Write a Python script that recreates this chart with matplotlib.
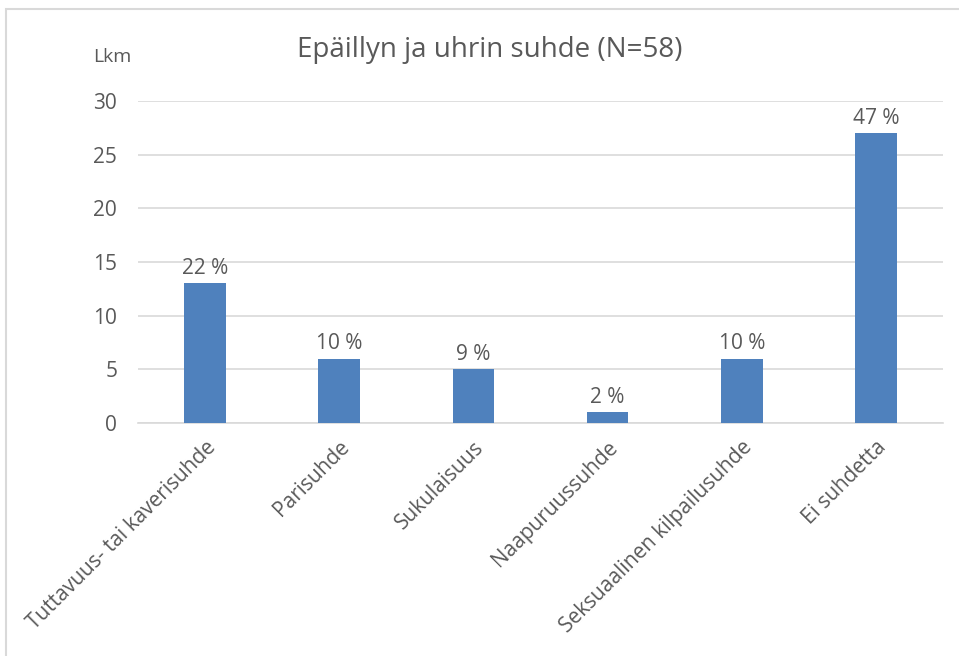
import matplotlib
matplotlib.use("Agg")
import matplotlib.pyplot as plt
from matplotlib.patches import Rectangle

categories = ["Tuttavuus- tai kaverisuhde", "Parisuhde", "Sukulaisuus",
              "Naapuruussuhde", "Seksuaalinen kilpailusuhde", "Ei suhdetta"]
counts = [13, 6, 5, 1, 6, 27]
pct_labels = ["22 %", "10 %", "9 %", "2 %", "10 %", "47 %"]
yticks = [0, 5, 10, 15, 20, 25, 30]

plt.rcParams['font.family'] = ['Open Sans', 'DejaVu Sans']
txt = '#595959'

fig = plt.figure(figsize=(9.59, 6.56), dpi=100)
ax = fig.add_axes([138/959, 1 - 423/656, 805/959, 322/656])

x = list(range(len(categories)))
bars = ax.bar(x, counts, width=0.31, color='#4F81BD', zorder=3)
for b, lab in zip(bars, pct_labels):
    ax.text(b.get_x() + b.get_width()/2, b.get_height() + 0.4, lab,
            ha='center', va='bottom', fontsize=15, color=txt)

ax.set_xlim(-0.5, len(categories) - 0.5)
ax.set_ylim(0, 30)
ax.set_yticks(yticks)
ax.set_xticks(x)
ax.set_xticklabels(categories, rotation=45, ha='right', rotation_mode='anchor',
                   fontsize=15, color=txt)
ax.tick_params(axis='y', length=0, pad=15, labelsize=15, labelcolor=txt)
ax.tick_params(axis='x', length=0, pad=10)
ax.grid(axis='y', color='#D9D9D9', linewidth=1.2, zorder=0)
for s in ['top', 'right', 'left']:
    ax.spines[s].set_visible(False)
ax.spines['bottom'].set_color('#D9D9D9')
ax.spines['bottom'].set_linewidth(1.2)

fig.text(490/959, 1 - 50/656, "Epäillyn ja uhrin suhde (N=58)", ha='center',
         va='center', fontsize=20, color=txt)
fig.text(112/959, 1 - 57/656, "Lkm", ha='center', va='center', fontsize=14, color=txt)

# chart frame, cut off at right and bottom like the screenshot
fig.patches.append(Rectangle((6/959, -0.05), 1.0, 1 - 9/656 + 0.05,
                             transform=fig.transFigure, fill=False,
                             edgecolor='#D9D9D9', linewidth=1.5))

fig.savefig("out.png", dpi=100)
